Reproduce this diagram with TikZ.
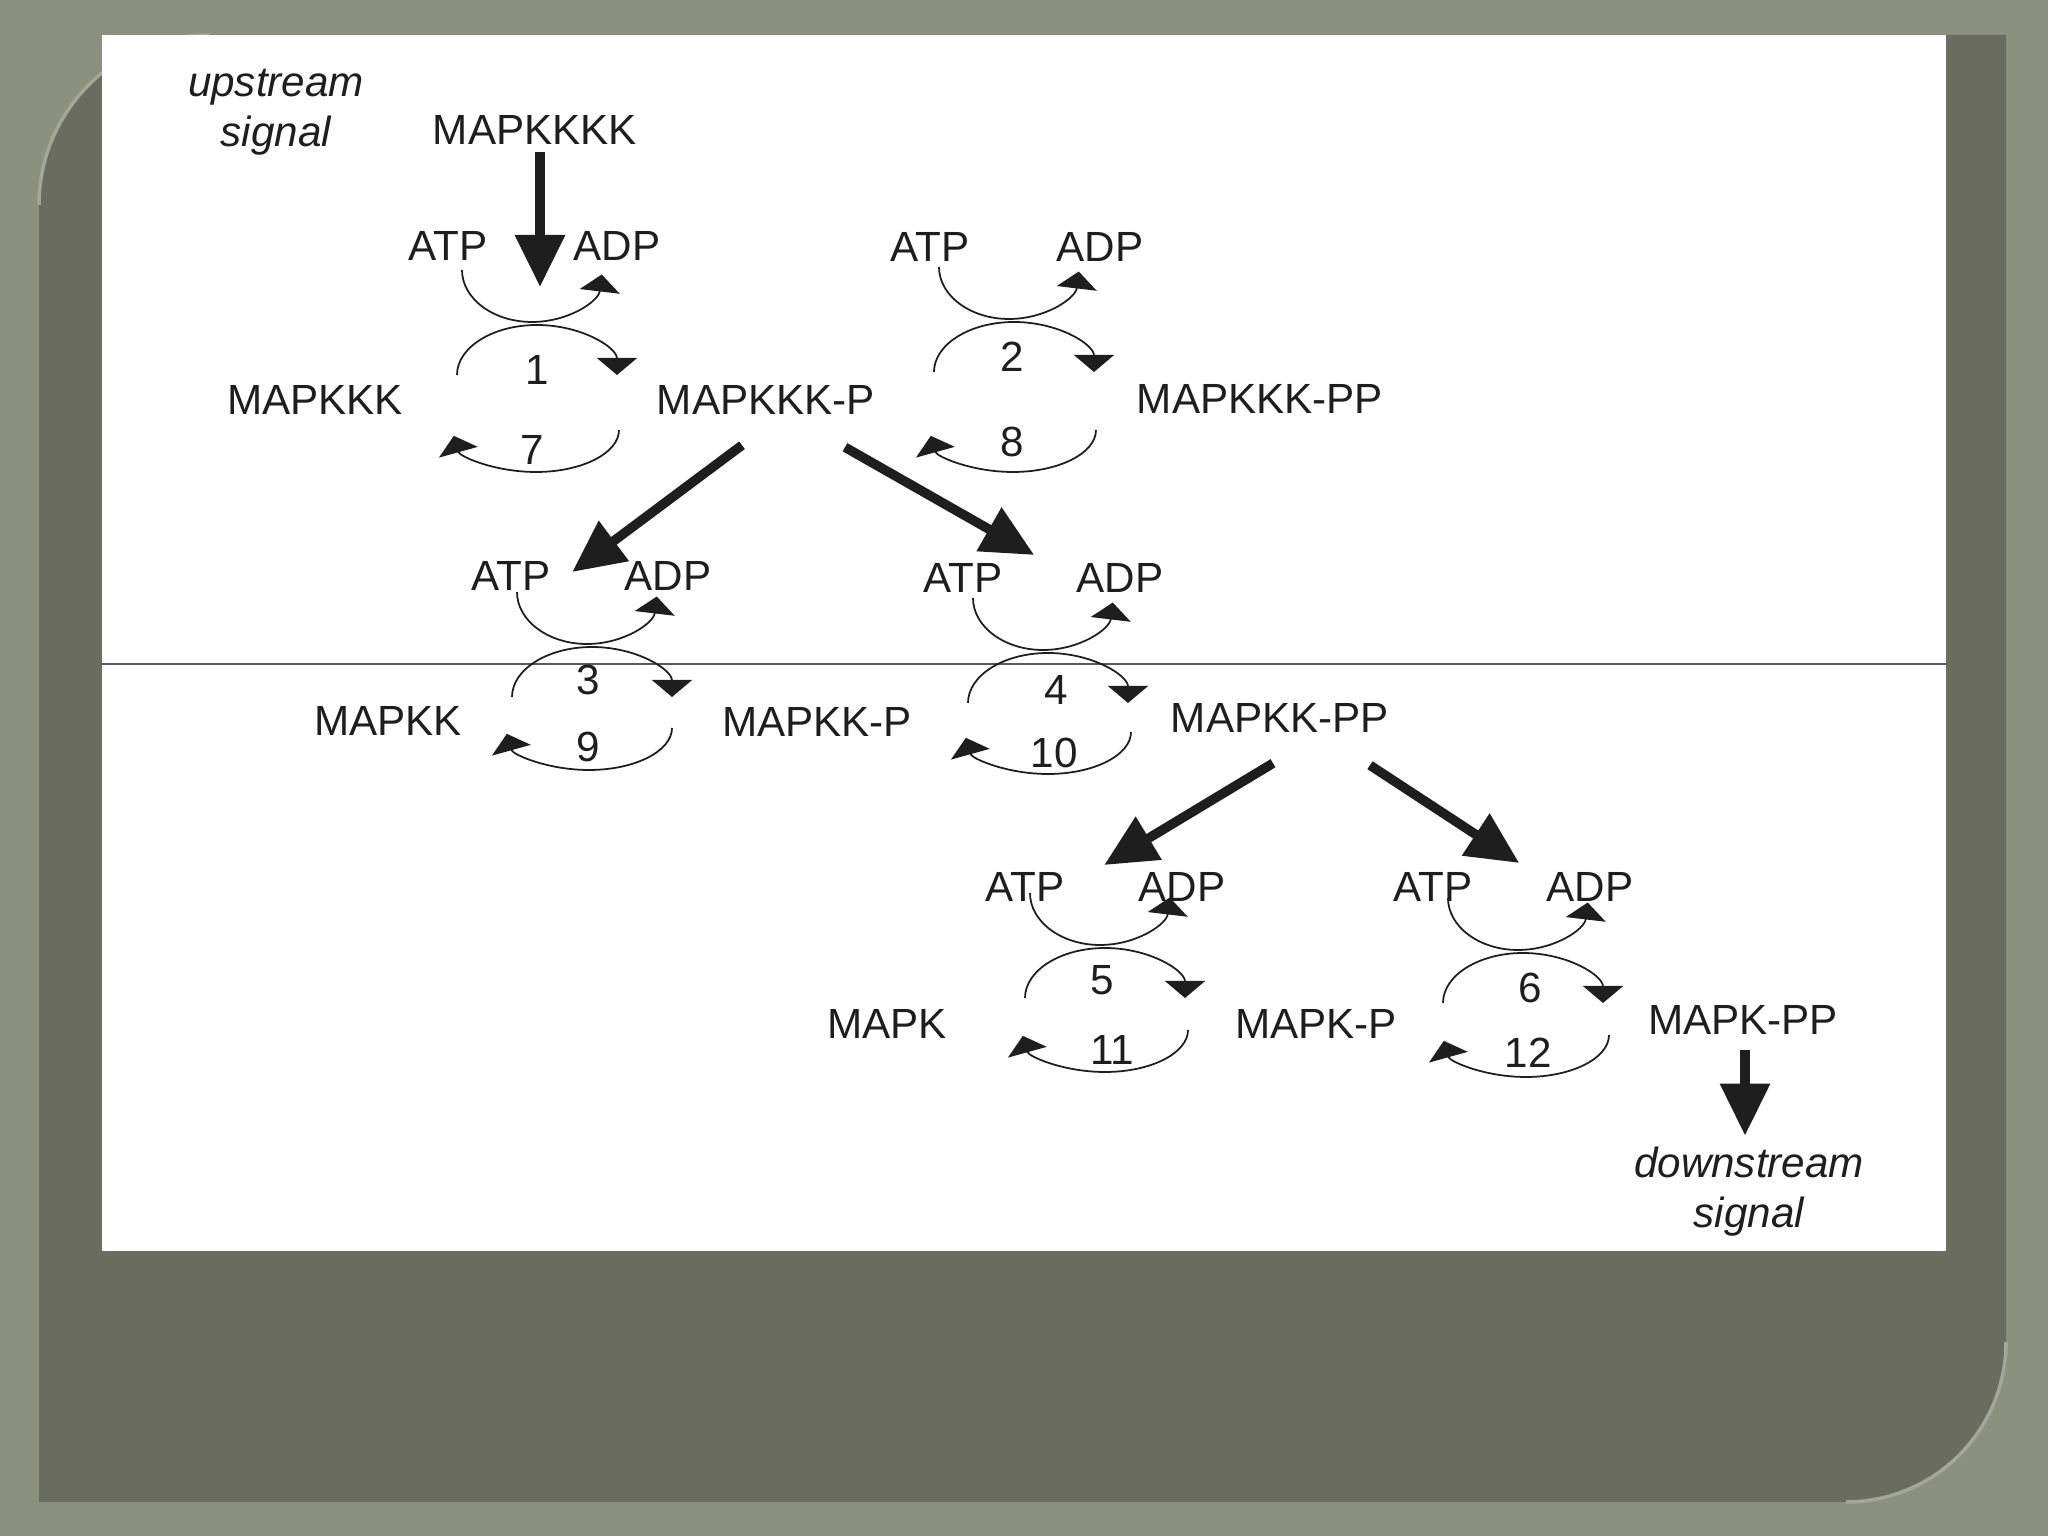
\documentclass[tikz,border=0pt]{standalone}
\usepackage{fontspec}
\setmainfont{Liberation Sans}
\usetikzlibrary{arrows.meta, calc}
\definecolor{slidebg}{HTML}{8C907F}
\definecolor{panelbg}{HTML}{696C5E}
\definecolor{panelrim}{HTML}{A4A798}
\definecolor{ink}{HTML}{1E1E1E}

\begin{document}
\begin{tikzpicture}[
    x=0.01cm, y=0.01cm,
    mol/.style={font=\fontsize{12}{14.4}\selectfont, text=ink, inner sep=2pt},
    num/.style={font=\fontsize{12}{14.4}\selectfont, text=ink, inner sep=1pt},
    sigtxt/.style={font=\fontsize{12}{14.2}\selectfont\itshape, text=ink,
                   align=center, inner sep=2pt},
    sig/.style={-{Triangle[length=5.2mm, width=4.8mm]}, line width=2.7pt, ink},
    cyc/.style={-{Triangle[length=1.7mm, width=4mm]}, line width=0.5pt, ink},
]

  %% ---- slide frame ----
  \useasboundingbox (0,0) rectangle (2048,1536);
  \fill[slidebg] (0,0) rectangle (2048,1536);
  \fill[panelbg] (39,34) -- (1846,34) arc[start angle=-90, end angle=0, radius=160]
        -- (2006,1501) -- (209,1501) arc[start angle=90, end angle=180, radius=170] -- cycle;
  \draw[panelrim, line width=1pt] (1846,34) arc[start angle=-90, end angle=0, radius=160];
  \draw[panelrim, line width=1pt] (209,1501) arc[start angle=90, end angle=180, radius=170];
  \fill[white] (102,285) rectangle (1946,1501);
  \draw[gray!70!black, line width=0.6pt] (102,872) -- (1946,872);

  %% ---- species ----
  \node[sigtxt] (up)   at (276,1424) {upstream\\signal};
  \node[mol]    (k4)   at (535,1406) {MAPKKKK};

  \node[mol] (k3)   at (315,1136)  {MAPKKK};
  \node[mol] (k3p)  at (766,1136)  {MAPKKK-P};
  \node[mol] (k3pp) at (1260,1137) {MAPKKK-PP};

  \node[mol] (k2)   at (388,815)   {MAPKK};
  \node[mol] (k2p)  at (817,814)   {MAPKK-P};
  \node[mol] (k2pp) at (1280,818)  {MAPKK-PP};

  \node[mol] (k1)   at (887,512)   {MAPK};
  \node[mol] (k1p)  at (1316,512)  {MAPK-P};
  \node[mol] (k1pp) at (1743,516)  {MAPK-PP};

  \node[sigtxt] (down) at (1749,344) {downstream\\signal};

  %% ---- ATP / ADP ----
  \node[mol] (atp1) at (448,1290)  {ATP};  \node[mol] (adp1) at (617,1290)  {ADP};
  \node[mol] (atp2) at (930,1289)  {ATP};  \node[mol] (adp2) at (1100,1289) {ADP};
  \node[mol] (atp3) at (511,960)   {ATP};  \node[mol] (adp3) at (668,960)   {ADP};
  \node[mol] (atp4) at (963,958)   {ATP};  \node[mol] (adp4) at (1120,958)  {ADP};
  \node[mol] (atp5) at (1025,649)  {ATP};  \node[mol] (adp5) at (1182,649)  {ADP};
  \node[mol] (atp6) at (1433,649)  {ATP};  \node[mol] (adp6) at (1590,649)  {ADP};

  %% ---- cycle anchors: f = forward arc, b = back arc ----
  \coordinate (f1) at (537,1161);  \coordinate (b1) at (537,1106);
  \coordinate (f2) at (1014,1164); \coordinate (b2) at (1014,1106);
  \coordinate (f3) at (592,839);   \coordinate (b3) at (590,808);
  \coordinate (f4) at (1048,833);  \coordinate (b4) at (1049,804);
  \coordinate (f5) at (1105,538);  \coordinate (b5) at (1106,506);
  \coordinate (f6) at (1523,533);  \coordinate (b6) at (1527,501);

  %% ---- reaction numbers ----
  \node[num] (n1)  at (537,1166) {1};  \node[num] (n7)  at (532,1086) {7};
  \node[num] (n2)  at (1012,1179) {2}; \node[num] (n8)  at (1012,1094) {8};
  \node[num] (n3)  at (588,856) {3};   \node[num] (n9)  at (588,789) {9};
  \node[num] (n4)  at (1056,846) {4};  \node[num] (n10) at (1054,783) {10};
  \node[num] (n5)  at (1102,556) {5};  \node[num] (n11) at (1112,486) {11};
  \node[num] (n6)  at (1530,548) {6};  \node[num] (n12) at (1528,483) {12};

  %% ---- phosphorylation cycles ----
  \foreach \i in {1,...,6} {
    \draw[cyc] ($(f\i)+(-75,105)$) arc[start angle=180, end angle=355, x radius=70, y radius=52];
    \draw[cyc] ($(f\i)+(-80,0)$) arc[start angle=180, end angle=0, x radius=80, y radius=50];
    \draw[cyc] ($(b\i)+(82,0)$) arc[start angle=0, end angle=-172, x radius=83, y radius=42];
  }

  %% ---- kinase arrows ----
  \coordinate (t1) at ($(f1)+(3,88)$);
  \draw[sig] (k4.south -| t1) -- (t1);
  \draw[sig] ($(k3p.south)+(-24,-23)$) -- ($(atp3.east)+(14,4)$);
  \draw[sig] ($(k3p.south)+(79,-25)$)  -- ($(atp4.east)+(24,23)$);
  \draw[sig] ($(k2pp.south)+(-7,-23)$) -- ($(atp5.east)+(32,22)$);
  \draw[sig] ($(k2pp.south)+(90,-25)$) -- ($(atp6.east)+(39,24)$);
  \draw[sig] ($(k1pp.south)+(2,-8)$)   -- ($(down.north)+(-4,4)$);

\end{tikzpicture}
\end{document}
